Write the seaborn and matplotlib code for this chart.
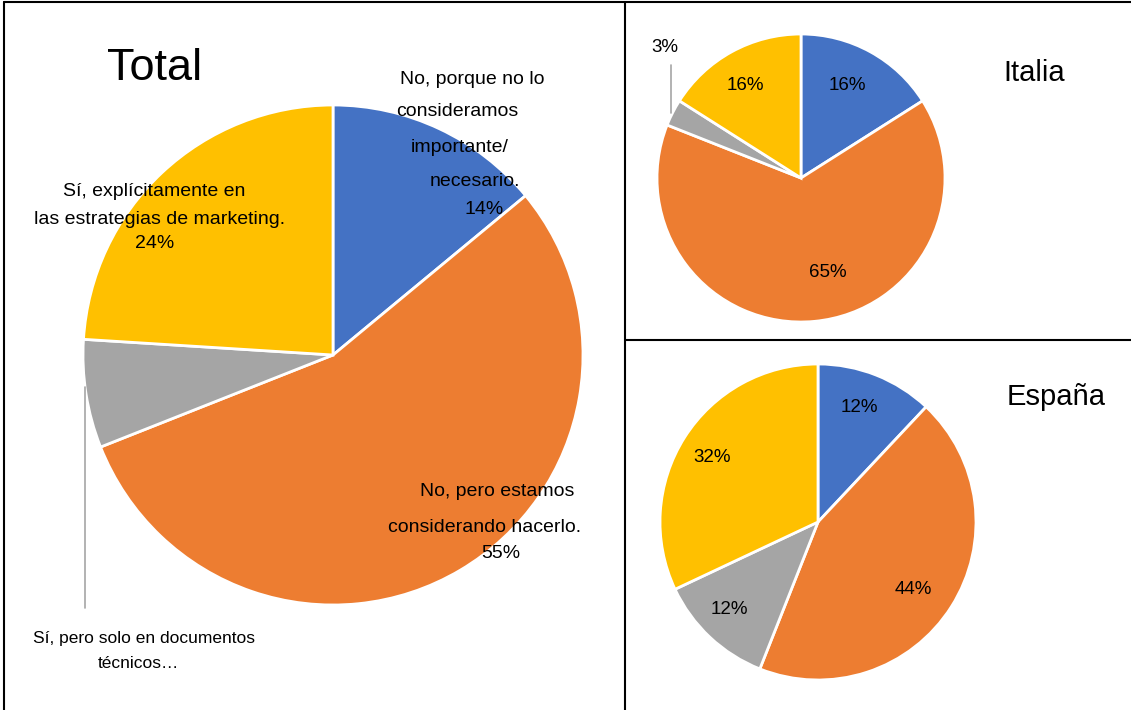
import matplotlib
matplotlib.use("Agg")
import matplotlib.pyplot as plt
import seaborn as sns
from matplotlib.lines import Line2D

# Data (clockwise from 12 o'clock)
categories = [
    "No, porque no lo consideramos importante/ necesario.",
    "No, pero estamos considerando hacerlo.",
    "Sí, pero solo en documentos técnicos…",
    "Sí, explícitamente en las estrategias de marketing.",
]
total = [14, 55, 7, 24]
italia = [16, 65, 3, 16]
espana = [12, 44, 12, 32]
colors = sns.color_palette(["#4472C4", "#ED7D31", "#A5A5A5", "#FFC000"])

W, H = 1131, 710

sns.set_theme(style="white")
plt.rcParams["font.family"] = ["Liberation Sans", "DejaVu Sans"]

fig = plt.figure(figsize=(W / 100, H / 100), dpi=100)
fig.patch.set_facecolor("white")


def fx(x):
    return x / W


def fy(y):
    return 1 - y / H


def put(x, y, s, size=13.5, **kw):
    fig.text(fx(x), fy(y), s, ha="center", va="center", fontsize=size,
             color="black", **kw)


def line(x0, y0, x1, y1, color="black", lw=1.5):
    fig.add_artist(Line2D([fx(x0), fx(x1)], [fy(y0), fy(y1)],
                          transform=fig.transFigure, color=color, lw=lw))


def draw_pie(cx, cy, r, values):
    ax = fig.add_axes([fx(cx - r), fy(cy + r), 2 * r / W, 2 * r / H])
    ax.pie(values, colors=colors, startangle=90, counterclock=False,
           wedgeprops=dict(edgecolor="white", linewidth=2))
    ax.set_xlim(-1, 1)
    ax.set_ylim(-1, 1)
    ax.axis("off")
    return ax


# panel borders
line(4, 2, 1131, 2)
line(4, 2, 4, 710)
line(625, 2, 625, 710)
line(625, 340, 1131, 340)

# ---- Total ----
draw_pie(333, 355, 250, total)
put(155, 69, "Total", size=32.5)

put(472, 79, "No, porque no lo", size=14)
put(457, 111, "consideramos", size=14)
put(460, 148, "importante/", size=14)
put(475, 182, "necesario.", size=14)
put(484, 209, f"{total[0]}%", size=14)

put(497, 492, "No, pero estamos", size=14)
put(485, 527, "considerando hacerlo.", size=14)
put(501, 554, f"{total[1]}%", size=14)

put(154, 191, "Sí, explícitamente en", size=14)
put(160, 219, "las estrategias de marketing.", size=14)
put(155, 243, f"{total[3]}%", size=14)

line(85, 387, 85, 608, color="#A6A6A6", lw=1.2)
put(144, 638, "Sí, pero solo en documentos", size=12.5)
put(138, 663, "técnicos…", size=12.5)

# ---- Italia ----
draw_pie(801, 178, 144, italia)
put(1034, 73, "Italia", size=21)
put(847, 86, f"{italia[0]}%")
put(828, 273, f"{italia[1]}%")
put(745, 86, f"{italia[3]}%")
put(665, 48, f"{italia[2]}%")
line(671, 65, 671, 113, color="#A6A6A6", lw=1.2)

# ---- España ----
draw_pie(818, 522, 158, espana)
put(1056, 397, "España", size=21)
put(859, 408, f"{espana[0]}%")
put(913, 590, f"{espana[1]}%")
put(729, 610, f"{espana[2]}%")
put(712, 458, f"{espana[3]}%")

fig.savefig("out.png", dpi=100, facecolor="white")
